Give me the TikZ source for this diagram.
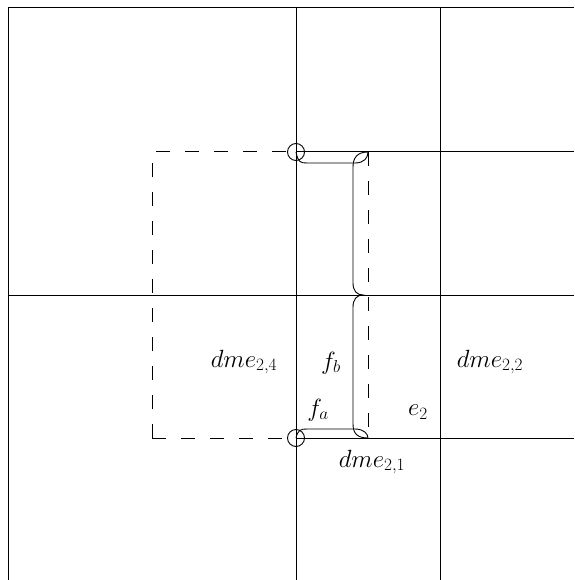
\documentclass[tikz,border=0pt]{standalone}
\begin{document}
\begin{tikzpicture}[x=1pt,y=-1pt,line width=1pt,
  gridline/.style={draw=black},
  dashline/.style={draw=black,dash pattern=on 14pt off 15pt},
  bracepath/.style={draw=black,line width=0.9pt},
  ringnode/.style={draw=black,line width=0.9pt,circle,minimum size=17pt,inner sep=0pt},
  lab/.style={font=\fontsize{24}{28}\selectfont,inner sep=0pt}]
\useasboundingbox (0,0) rectangle (574,580);
% grid
\draw[gridline] (8,580) -- (8,8) -- (574,8);
\draw[gridline] (296,8) -- (296,580);
\draw[gridline] (440,8) -- (440,580);
\draw[gridline] (8,295) -- (574,295);
\draw[gridline] (296,152) -- (574,152);
\draw[gridline] (296,438) -- (574,438);
% dashed square
\coordinate (TL) at (152,152);
\coordinate (TR) at (368,152);
\coordinate (BR) at (368,438);
\coordinate (BL) at (152,438);
\draw[dashline] (BL) -- (TL) -- (TR);
\draw[dashline] (BL) -- (296,438);
\draw[dashline] (TR) -- (BR);
% circles
\node[ringnode] (ctop) at (296,152) {};
\node[ringnode] (cbot) at (296,438) {};
% horizontal brackets
\draw[bracepath] (ctop.center) .. controls (298,162) and (300,163) .. (307,163) -- (355,163) .. controls (364,163) and (368,158) .. (TR);
\draw[bracepath] (cbot.center) .. controls (298,430) and (300,429) .. (307,429) -- (355,429) .. controls (364,429) and (368,434) .. (BR);
% vertical brace
\draw[bracepath] (TR) .. controls (358,152) and (353,157) .. (353,167) -- (353,283)
  .. controls (353,291) and (357,295) .. (363,295)
  .. controls (357,295) and (353,299) .. (353,307) -- (353,424)
  .. controls (353,434) and (358,438) .. (BR);
% labels
\node[lab] (l24) at (244,362) {$dme_{2,4}$};
\node[lab] (lfb) at (331,363) {$f_b$};
\node[lab] (l22) at (490,362) {$dme_{2,2}$};
\node[lab] (lfa) at (318,410) {$f_a$};
\node[lab] (le2) at (418,412) {$e_2$};
\node[lab] (l21) at (372,462) {$dme_{2,1}$};
\end{tikzpicture}
\end{document}
